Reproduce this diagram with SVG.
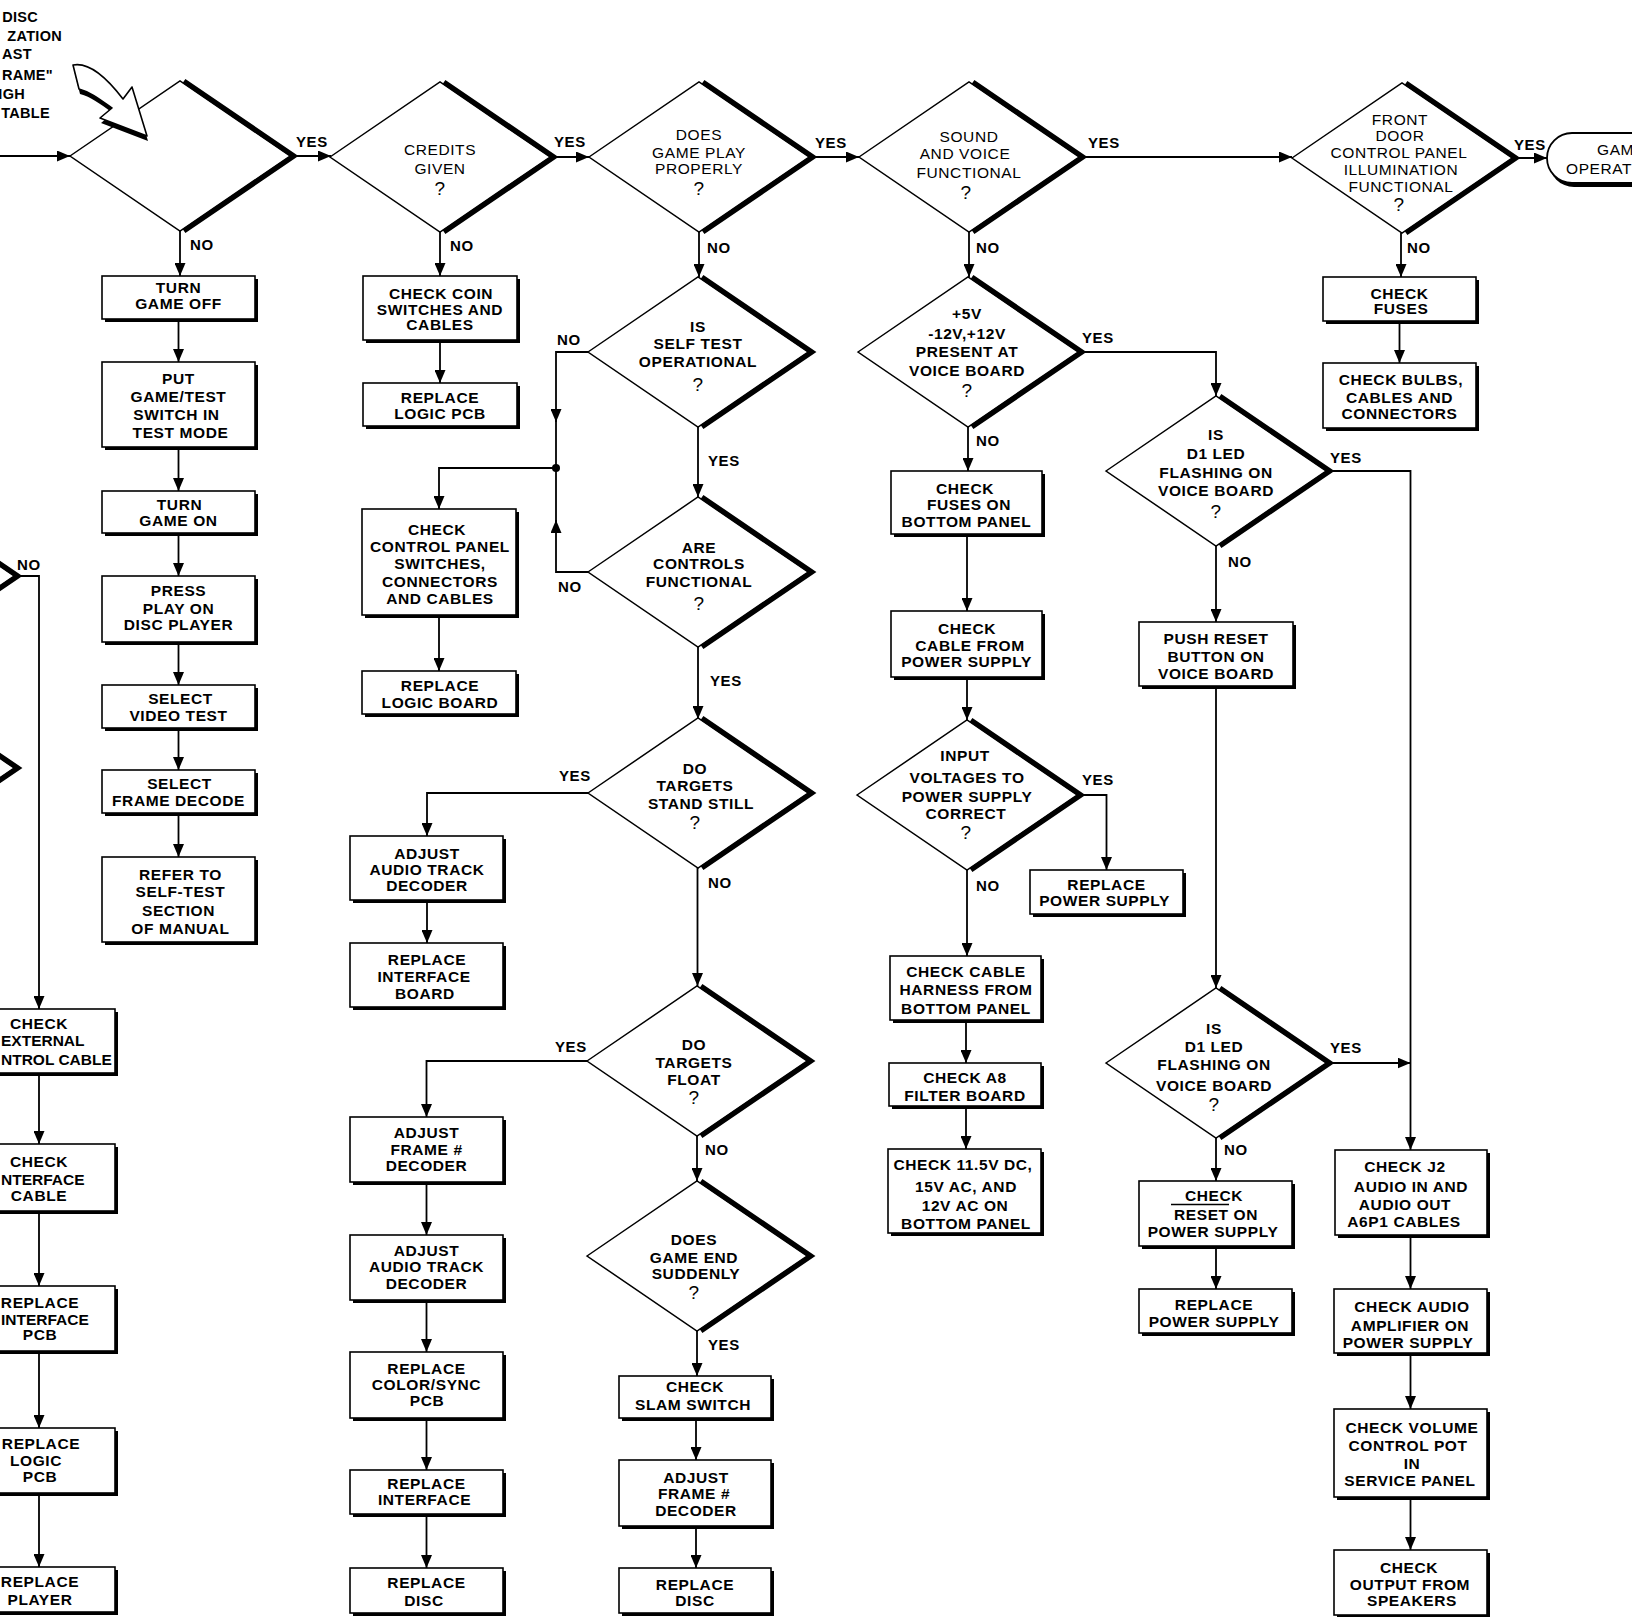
<svg xmlns="http://www.w3.org/2000/svg" xmlns:xlink="http://www.w3.org/1999/xlink" width="1632" height="1617" viewBox="0 0 1632 1617">
<style>
.ln{stroke:#000;stroke-width:1.8;fill:none}
.bx{fill:#fff;stroke:#000;stroke-width:1.6}
.sh{fill:#000}
.dm{fill:#fff;stroke:#000;stroke-width:1.5}
.dk{fill:none;stroke:#000;stroke-width:5}
text{font-family:"Liberation Sans",Arial,sans-serif;font-size:15.5px;font-weight:bold;letter-spacing:0.6px;text-anchor:middle;fill:#000}
.lb{text-anchor:start;font-size:15px}
.rg{font-weight:normal}
.st{text-anchor:start}
.cut{text-anchor:start;letter-spacing:0}
.q{font-size:19px;font-weight:normal}
.nt{text-anchor:end;font-size:14.5px;letter-spacing:0.3px}
</style>
<defs>
<marker id="ah" viewBox="0 0 13 11" refX="13" refY="5.5" markerWidth="13" markerHeight="11" markerUnits="userSpaceOnUse" orient="auto"><path d="M0,0 L13,5.5 L0,11 z" fill="#000"/></marker>
<g id="dia"><polygon class="dm" points="-110,0 0,-75 110,0 0,75"/><polyline class="dk" points="4,-75 114,0 4,75"/></g>
</defs>
<rect x="0" y="0" width="1632" height="1617" fill="#fff"/>

<!-- connectors -->
<g id="connectors">
<path class="ln" marker-end="url(#ah)" d="M0,156 H70"/>
<path class="ln" marker-end="url(#ah)" d="M290,156 H331"/>
<path class="ln" marker-end="url(#ah)" d="M550,157 H589"/>
<path class="ln" marker-end="url(#ah)" d="M809,157 H859"/>
<path class="ln" marker-end="url(#ah)" d="M1079,157 H1292"/>
<path class="ln" marker-end="url(#ah)" d="M1512,158 H1547"/>
<path class="ln" marker-end="url(#ah)" d="M180,231 V276"/>
<path class="ln" marker-end="url(#ah)" d="M178.5,319 V362"/>
<path class="ln" marker-end="url(#ah)" d="M178.5,447 V491"/>
<path class="ln" marker-end="url(#ah)" d="M178.5,533 V576"/>
<path class="ln" marker-end="url(#ah)" d="M178.5,642 V685"/>
<path class="ln" marker-end="url(#ah)" d="M178.5,728 V770"/>
<path class="ln" marker-end="url(#ah)" d="M178.5,813 V857"/>
<path class="ln" marker-end="url(#ah)" d="M440,232 V276"/>
<path class="ln" marker-end="url(#ah)" d="M440,340 V383"/>
<path class="ln" marker-end="url(#ah)" d="M699,232 V277"/>
<path class="ln" marker-end="url(#ah)" d="M698,427 V497"/>
<path class="ln" marker-end="url(#ah)" d="M588,352 H556 V422"/>
<path class="ln" d="M556,420 V468"/>
<path class="ln" marker-end="url(#ah)" d="M588,572 H556 V520"/>
<path class="ln" d="M556,522 V468"/>
<circle cx="556" cy="468" r="4" fill="#000"/>
<path class="ln" marker-end="url(#ah)" d="M556,468 H439 V509"/>
<path class="ln" marker-end="url(#ah)" d="M439,615 V671"/>
<path class="ln" marker-end="url(#ah)" d="M698,647 V719"/>
<path class="ln" marker-end="url(#ah)" d="M588,793 H427 V836"/>
<path class="ln" marker-end="url(#ah)" d="M427,900 V943"/>
<path class="ln" marker-end="url(#ah)" d="M697.5,868 V986"/>
<path class="ln" marker-end="url(#ah)" d="M587,1061 H426.5 V1117"/>
<path class="ln" marker-end="url(#ah)" d="M426.5,1182 V1235"/>
<path class="ln" marker-end="url(#ah)" d="M426.5,1300 V1352"/>
<path class="ln" marker-end="url(#ah)" d="M426.5,1418 V1470"/>
<path class="ln" marker-end="url(#ah)" d="M426.5,1514 V1568"/>
<path class="ln" marker-end="url(#ah)" d="M697,1136 V1181"/>
<path class="ln" marker-end="url(#ah)" d="M697,1331 V1376"/>
<path class="ln" marker-end="url(#ah)" d="M696,1418 V1460"/>
<path class="ln" marker-end="url(#ah)" d="M696,1526 V1568"/>
<path class="ln" marker-end="url(#ah)" d="M969,232 V277"/>
<path class="ln" marker-end="url(#ah)" d="M968,427 V471"/>
<path class="ln" marker-end="url(#ah)" d="M967,534 V611"/>
<path class="ln" marker-end="url(#ah)" d="M967,677 V720"/>
<path class="ln" marker-end="url(#ah)" d="M967,870 V956"/>
<path class="ln" marker-end="url(#ah)" d="M966,1020 V1063"/>
<path class="ln" marker-end="url(#ah)" d="M966,1106 V1149"/>
<path class="ln" marker-end="url(#ah)" d="M1077,795 H1106.5 V870"/>
<path class="ln" marker-end="url(#ah)" d="M1078,352 H1216 V396"/>
<path class="ln" marker-end="url(#ah)" d="M1216,546 V622"/>
<path class="ln" marker-end="url(#ah)" d="M1216,686 V988"/>
<path class="ln" marker-end="url(#ah)" d="M1326,471 H1410.5 V1150"/>
<path class="ln" marker-end="url(#ah)" d="M1326,1063 H1410.5"/>
<path class="ln" marker-end="url(#ah)" d="M1216,1138 V1181"/>
<path class="ln" marker-end="url(#ah)" d="M1216,1246 V1289"/>
<path class="ln" marker-end="url(#ah)" d="M1410.5,1235 V1289"/>
<path class="ln" marker-end="url(#ah)" d="M1410.5,1353 V1409"/>
<path class="ln" marker-end="url(#ah)" d="M1410.5,1497 V1550"/>
<path class="ln" marker-end="url(#ah)" d="M1401,233 V277"/>
<path class="ln" marker-end="url(#ah)" d="M1399.5,321 V363"/>
<path class="ln" marker-end="url(#ah)" d="M14,576 H39 V1009"/>
<path class="ln" marker-end="url(#ah)" d="M39,1073 V1144"/>
<path class="ln" marker-end="url(#ah)" d="M39,1211 V1286"/>
<path class="ln" marker-end="url(#ah)" d="M39,1351 V1428"/>
<path class="ln" marker-end="url(#ah)" d="M39,1493 V1567"/>
<g id="labels">
<text class="lb" x="296" y="147">YES</text>
<text class="lb" x="554" y="147">YES</text>
<text class="lb" x="815" y="148">YES</text>
<text class="lb" x="1088" y="148">YES</text>
<text class="lb" x="1514" y="150">YES</text>
<text class="lb" x="190" y="250">NO</text>
<text class="lb" x="450" y="251">NO</text>
<text class="lb" x="707" y="253">NO</text>
<text class="lb" x="976" y="253">NO</text>
<text class="lb" x="1407" y="253">NO</text>
<text class="lb" x="557" y="345">NO</text>
<text class="lb" x="708" y="466">YES</text>
<text class="lb" x="558" y="592">NO</text>
<text class="lb" x="710" y="686">YES</text>
<text class="lb" x="559" y="781">YES</text>
<text class="lb" x="708" y="888">NO</text>
<text class="lb" x="555" y="1052">YES</text>
<text class="lb" x="705" y="1155">NO</text>
<text class="lb" x="708" y="1350">YES</text>
<text class="lb" x="976" y="446">NO</text>
<text class="lb" x="1082" y="343">YES</text>
<text class="lb" x="1082" y="785">YES</text>
<text class="lb" x="976" y="891">NO</text>
<text class="lb" x="1330" y="463">YES</text>
<text class="lb" x="1228" y="567">NO</text>
<text class="lb" x="1330" y="1053">YES</text>
<text class="lb" x="1224" y="1155">NO</text>
<text class="lb" x="17" y="570">NO</text>
</g>
</g>

<!-- note -->
<g id="note">
<text class="nt" x="38" y="22">DISC</text>
<text class="nt" x="62" y="41">ZATION</text>
<text class="nt" x="32" y="59">AST</text>
<text class="nt" x="53" y="80">RAME"</text>
<text class="nt" x="25" y="99">IGH</text>
<text class="nt" x="50" y="118">TABLE</text>
</g>

<!-- diamonds -->
<g id="n-d1"><use xlink:href="#dia" x="180" y="156"/></g>
<g id="n-pointer">
<path d="M74,70 C89,67 105,79 124,104 L133,92 L148,141 L101,123 L113,113 C99,103 91,97 80,94 Z" fill="#000"/>
<path d="M73,65 C88,62 104,74 123,99 L132,87 L147,136 L100,118 L112,108 C98,98 90,92 79,89 Z" fill="#fff" stroke="#000" stroke-width="1.6" stroke-linejoin="round"/>
</g>
<g id="n-credits"><use xlink:href="#dia" x="440" y="157"/>
<text class="rg" x="440" y="154.5">CREDITS</text><text class="rg" x="440" y="173.5">GIVEN</text><text class="q" x="440" y="195">?</text></g>
<g id="n-gameplay"><use xlink:href="#dia" x="699" y="157"/>
<text class="rg" x="699" y="139.5">DOES</text><text class="rg" x="699" y="157.5">GAME PLAY</text><text class="rg" x="699" y="173.5">PROPERLY</text><text class="q" x="699" y="195">?</text></g>
<g id="n-sound"><use xlink:href="#dia" x="969" y="157"/>
<text class="rg" x="969" y="141.5">SOUND</text><text class="rg" x="965" y="158.5">AND VOICE</text><text class="rg" x="969" y="177.5">FUNCTIONAL</text><text class="q" x="966" y="199">?</text></g>
<g id="n-frontdoor"><use xlink:href="#dia" x="1402" y="158"/>
<text class="rg" x="1400" y="124.5">FRONT</text><text class="rg" x="1400" y="140.5">DOOR</text><text class="rg" x="1399" y="157.5">CONTROL PANEL</text><text class="rg" x="1401" y="174.5">ILLUMINATION</text><text class="rg" x="1401" y="191.5">FUNCTIONAL</text><text class="q" x="1399" y="211">?</text></g>
<g id="n-selftest"><use xlink:href="#dia" x="698" y="352"/>
<text x="698" y="331.5">IS</text><text x="698" y="348.5">SELF TEST</text><text x="698" y="366.5">OPERATIONAL</text><text class="q" x="698" y="391">?</text></g>
<g id="n-controls"><use xlink:href="#dia" x="698" y="572"/>
<text x="699" y="552.5">ARE</text><text x="699" y="568.5">CONTROLS</text><text x="699" y="586.5">FUNCTIONAL</text><text class="q" x="699" y="610">?</text></g>
<g id="n-standstill"><use xlink:href="#dia" x="698" y="793"/>
<text x="695" y="773.5">DO</text><text x="695" y="790.5">TARGETS</text><text x="701" y="808.5">STAND STILL</text><text class="q" x="695" y="829">?</text></g>
<g id="n-float"><use xlink:href="#dia" x="697" y="1061"/>
<text x="694" y="1049.5">DO</text><text x="694" y="1067.5">TARGETS</text><text x="694" y="1084.5">FLOAT</text><text class="q" x="694" y="1104">?</text></g>
<g id="n-gameend"><use xlink:href="#dia" x="697" y="1256"/>
<text x="694" y="1245">DOES</text><text x="694" y="1262.5">GAME END</text><text x="696" y="1278.5">SUDDENLY</text><text class="q" x="694" y="1299">?</text></g>
<g id="n-5v"><use xlink:href="#dia" x="968" y="352"/>
<text x="967" y="318.5">+5V</text><text x="967" y="338.5">-12V,+12V</text><text x="967" y="356.5">PRESENT AT</text><text x="967" y="375.5">VOICE BOARD</text><text class="q" x="967" y="396.5">?</text></g>
<g id="n-input"><use xlink:href="#dia" x="967" y="795"/>
<text x="965" y="760.5">INPUT</text><text x="967" y="782.5">VOLTAGES TO</text><text x="967" y="801.5">POWER SUPPLY</text><text x="966" y="818.5">CORRECT</text><text class="q" x="966" y="838.5">?</text></g>
<g id="n-d1led1"><use xlink:href="#dia" x="1216" y="471"/>
<text x="1216" y="439.5">IS</text><text x="1216" y="458.5">D1 LED</text><text x="1216" y="477.5">FLASHING ON</text><text x="1216" y="495.5">VOICE BOARD</text><text class="q" x="1216" y="517.5">?</text></g>
<g id="n-d1led2"><use xlink:href="#dia" x="1216" y="1063"/>
<text x="1214" y="1033.5">IS</text><text x="1214" y="1051.5">D1 LED</text><text x="1214" y="1069.5">FLASHING ON</text><text x="1214" y="1090.5">VOICE BOARD</text><text class="q" x="1214" y="1110.5">?</text></g>
<g id="n-leftd1"><use xlink:href="#dia" x="-96" y="576"/></g>
<g id="n-leftd2"><use xlink:href="#dia" x="-96" y="768"/></g>

<!-- terminal -->
<g id="n-term">
<rect x="1549" y="137" width="200" height="50" rx="25" fill="#000"/>
<rect x="1547" y="133" width="200" height="50" rx="25" fill="#fff" stroke="#000" stroke-width="1.8"/>
<text class="rg st" x="1597" y="155">GAM</text>
<text class="rg st" x="1566" y="173.5">OPERAT</text>
</g>

<!-- column A -->
<g id="n-turnoff"><rect class="sh" x="105" y="279" width="153" height="43"/><rect class="bx" x="102" y="276" width="153" height="43"/>
<text x="178.5" y="292.5">TURN</text><text x="178.5" y="308.5">GAME OFF</text></g>
<g id="n-put"><rect class="sh" x="105" y="365" width="153" height="85"/><rect class="bx" x="102" y="362" width="153" height="85"/>
<text x="178.5" y="383.5">PUT</text><text x="178.5" y="401.5">GAME/TEST</text><text x="176.5" y="419.5">SWITCH IN</text><text x="180.5" y="437.5">TEST MODE</text></g>
<g id="n-turnon"><rect class="sh" x="105" y="494" width="153" height="42"/><rect class="bx" x="102" y="491" width="153" height="42"/>
<text x="179.5" y="509.5">TURN</text><text x="178.5" y="525.5">GAME ON</text></g>
<g id="n-press"><rect class="sh" x="105" y="579" width="153" height="66"/><rect class="bx" x="102" y="576" width="153" height="66"/>
<text x="178.5" y="595.5">PRESS</text><text x="178.5" y="613.5">PLAY ON</text><text x="178.5" y="629.5">DISC PLAYER</text></g>
<g id="n-video"><rect class="sh" x="105" y="688" width="153" height="43"/><rect class="bx" x="102" y="685" width="153" height="43"/>
<text x="180.5" y="703.5">SELECT</text><text x="178.5" y="720.5">VIDEO TEST</text></g>
<g id="n-frame"><rect class="sh" x="105" y="773" width="153" height="43"/><rect class="bx" x="102" y="770" width="153" height="43"/>
<text x="179.5" y="789">SELECT</text><text x="178.5" y="805.5">FRAME DECODE</text></g>
<g id="n-refer"><rect class="sh" x="105" y="860" width="153" height="85"/><rect class="bx" x="102" y="857" width="153" height="85"/>
<text x="180.5" y="880">REFER TO</text><text x="180.5" y="897">SELF-TEST</text><text x="178.5" y="915.5">SECTION</text><text x="180.5" y="933.5">OF MANUAL</text></g>

<!-- column B -->
<g id="n-coin"><rect class="sh" x="366" y="279" width="154" height="64"/><rect class="bx" x="363" y="276" width="154" height="64"/>
<text x="441" y="298.5">CHECK COIN</text><text x="440" y="314.5">SWITCHES AND</text><text x="440" y="329.5">CABLES</text></g>
<g id="n-replogic1"><rect class="sh" x="366" y="386" width="154" height="43"/><rect class="bx" x="363" y="383" width="154" height="43"/>
<text x="440" y="402.5">REPLACE</text><text x="440" y="418.5">LOGIC PCB</text></g>
<g id="n-ctrlpanel"><rect class="sh" x="365" y="512" width="154" height="106"/><rect class="bx" x="362" y="509" width="154" height="106"/>
<text x="437" y="534.5">CHECK</text><text x="440" y="551.5">CONTROL PANEL</text><text x="440" y="568.5">SWITCHES,</text><text x="440" y="586.5">CONNECTORS</text><text x="440" y="603.5">AND CABLES</text></g>
<g id="n-replogic2"><rect class="sh" x="365" y="674" width="154" height="43"/><rect class="bx" x="362" y="671" width="154" height="43"/>
<text x="440" y="691">REPLACE</text><text x="440" y="708">LOGIC BOARD</text></g>

<!-- column B' -->
<g id="n-audio1"><rect class="sh" x="353" y="839" width="153" height="64"/><rect class="bx" x="350" y="836" width="153" height="64"/>
<text x="427" y="858.5">ADJUST</text><text x="427" y="874.5">AUDIO TRACK</text><text x="427" y="891">DECODER</text></g>
<g id="n-repint1"><rect class="sh" x="353" y="946" width="153" height="64"/><rect class="bx" x="350" y="943" width="153" height="64"/>
<text x="427" y="965">REPLACE</text><text x="424" y="982">INTERFACE</text><text x="425" y="998.5">BOARD</text></g>
<g id="n-adjframe1"><rect class="sh" x="353" y="1120" width="153" height="65"/><rect class="bx" x="350" y="1117" width="153" height="65"/>
<text x="426.5" y="1137.5">ADJUST</text><text x="426.5" y="1154.5">FRAME #</text><text x="426.5" y="1170.5">DECODER</text></g>
<g id="n-audio2"><rect class="sh" x="353" y="1238" width="153" height="65"/><rect class="bx" x="350" y="1235" width="153" height="65"/>
<text x="426.5" y="1255.5">ADJUST</text><text x="426.5" y="1272">AUDIO TRACK</text><text x="426.5" y="1288.5">DECODER</text></g>
<g id="n-color"><rect class="sh" x="353" y="1355" width="153" height="66"/><rect class="bx" x="350" y="1352" width="153" height="66"/>
<text x="426.5" y="1373.5">REPLACE</text><text x="426.5" y="1390">COLOR/SYNC</text><text x="427" y="1406">PCB</text></g>
<g id="n-repint2"><rect class="sh" x="353" y="1473" width="153" height="44"/><rect class="bx" x="350" y="1470" width="153" height="44"/>
<text x="426.5" y="1488.5">REPLACE</text><text x="424.5" y="1504.5">INTERFACE</text></g>
<g id="n-disc1"><rect class="sh" x="353" y="1571" width="153" height="45"/><rect class="bx" x="350" y="1568" width="153" height="45"/>
<text x="426.5" y="1588">REPLACE</text><text x="424" y="1605.5">DISC</text></g>

<!-- column C -->
<g id="n-slam"><rect class="sh" x="622" y="1379" width="152" height="42"/><rect class="bx" x="619" y="1376" width="152" height="42"/>
<text x="695" y="1392">CHECK</text><text x="693" y="1409.5">SLAM SWITCH</text></g>
<g id="n-adjframe2"><rect class="sh" x="622" y="1463" width="152" height="66"/><rect class="bx" x="619" y="1460" width="152" height="66"/>
<text x="696" y="1482.5">ADJUST</text><text x="694" y="1498.5">FRAME #</text><text x="696" y="1515.5">DECODER</text></g>
<g id="n-disc2"><rect class="sh" x="622" y="1571" width="152" height="45"/><rect class="bx" x="619" y="1568" width="152" height="45"/>
<text x="695" y="1589.5">REPLACE</text><text x="695" y="1605.5">DISC</text></g>

<!-- column D -->
<g id="n-fuses2"><rect class="sh" x="894" y="474" width="151" height="63"/><rect class="bx" x="891" y="471" width="151" height="63"/>
<text x="965" y="493.5">CHECK</text><text x="969" y="509.5">FUSES ON</text><text x="966.5" y="526.5">BOTTOM PANEL</text></g>
<g id="n-cable"><rect class="sh" x="894" y="614" width="151" height="66"/><rect class="bx" x="891" y="611" width="151" height="66"/>
<text x="967" y="633.5">CHECK</text><text x="970" y="650.5">CABLE FROM</text><text x="966.5" y="666.5">POWER SUPPLY</text></g>
<g id="n-harness"><rect class="sh" x="893" y="959" width="151" height="64"/><rect class="bx" x="890" y="956" width="151" height="64"/>
<text x="966" y="976.5">CHECK CABLE</text><text x="966" y="995">HARNESS FROM</text><text x="966" y="1013.5">BOTTOM PANEL</text></g>
<g id="n-a8"><rect class="sh" x="892" y="1066" width="152" height="43"/><rect class="bx" x="889" y="1063" width="152" height="43"/>
<text x="965" y="1082.5">CHECK A8</text><text x="965" y="1100.5">FILTER BOARD</text></g>
<g id="n-11v"><rect class="sh" x="891" y="1152" width="153" height="84"/><rect class="bx" x="888" y="1149" width="153" height="84"/>
<text x="963" y="1169.5">CHECK 11.5V DC,</text><text x="966" y="1191.5">15V AC, AND</text><text x="965" y="1211">12V AC ON</text><text x="966" y="1228.5">BOTTOM PANEL</text></g>
<g id="n-reppsu1"><rect class="sh" x="1033" y="873" width="153" height="44"/><rect class="bx" x="1030" y="870" width="153" height="44"/>
<text x="1106.5" y="889.5">REPLACE</text><text x="1104.5" y="905.5">POWER SUPPLY</text></g>

<!-- column E -->
<g id="n-pushreset"><rect class="sh" x="1142" y="625" width="154" height="64"/><rect class="bx" x="1139" y="622" width="154" height="64"/>
<text x="1216" y="643.5">PUSH RESET</text><text x="1216" y="661.5">BUTTON ON</text><text x="1216" y="678.5">VOICE BOARD</text></g>
<g id="n-checkreset"><rect class="sh" x="1142" y="1184" width="153" height="65"/><rect class="bx" x="1139" y="1181" width="153" height="65"/>
<text x="1214" y="1200.5">CHECK</text><text x="1216" y="1220">RESET ON</text><line x1="1171" y1="1204.5" x2="1229" y2="1204.5" stroke="#000" stroke-width="1.6"/><text x="1213" y="1237">POWER SUPPLY</text></g>
<g id="n-reppsu2"><rect class="sh" x="1142" y="1292" width="153" height="44"/><rect class="bx" x="1139" y="1289" width="153" height="44"/>
<text x="1214" y="1309.5">REPLACE</text><text x="1214" y="1326.5">POWER SUPPLY</text></g>

<!-- column F -->
<g id="n-j2"><rect class="sh" x="1338" y="1153" width="152" height="85"/><rect class="bx" x="1335" y="1150" width="152" height="85"/>
<text x="1405" y="1172">CHECK J2</text><text x="1411" y="1191.5">AUDIO IN AND</text><text x="1405" y="1209.5">AUDIO OUT</text><text x="1404" y="1226.5">A6P1 CABLES</text></g>
<g id="n-amp"><rect class="sh" x="1337" y="1292" width="153" height="64"/><rect class="bx" x="1334" y="1289" width="153" height="64"/>
<text x="1412" y="1311.5">CHECK AUDIO</text><text x="1410" y="1330.5">AMPLIFIER ON</text><text x="1408" y="1347.5">POWER SUPPLY</text></g>
<g id="n-volume"><rect class="sh" x="1337" y="1412" width="153" height="88"/><rect class="bx" x="1334" y="1409" width="153" height="88"/>
<text x="1412" y="1432.5">CHECK VOLUME</text><text x="1408" y="1450.5">CONTROL POT</text><text x="1412" y="1468.5">IN</text><text x="1410" y="1485.5">SERVICE PANEL</text></g>
<g id="n-output"><rect class="sh" x="1337" y="1553" width="153" height="65"/><rect class="bx" x="1334" y="1550" width="153" height="65"/>
<text x="1409" y="1572.5">CHECK</text><text x="1410" y="1589.5">OUTPUT FROM</text><text x="1412" y="1605.5">SPEAKERS</text></g>

<!-- column front door -->
<g id="n-fuses1"><rect class="sh" x="1326" y="280" width="153" height="44"/><rect class="bx" x="1323" y="277" width="153" height="44"/>
<text x="1399.5" y="298.5">CHECK</text><text x="1401" y="313.5">FUSES</text></g>
<g id="n-bulbs"><rect class="sh" x="1326" y="366" width="153" height="65"/><rect class="bx" x="1323" y="363" width="153" height="65"/>
<text x="1401" y="384.5">CHECK BULBS,</text><text x="1399.5" y="402.5">CABLES AND</text><text x="1399.5" y="418.5">CONNECTORS</text></g>

<!-- left column (cropped) -->
<g id="n-ext"><rect class="sh" x="-34" y="1012" width="152" height="64"/><rect class="bx" x="-37" y="1009" width="152" height="64"/>
<text x="39" y="1029">CHECK</text><text class="cut" x="1" y="1046">EXTERNAL</text><text class="cut" x="1" y="1064.5">NTROL CABLE</text></g>
<g id="n-intcable"><rect class="sh" x="-34" y="1147" width="152" height="67"/><rect class="bx" x="-37" y="1144" width="152" height="67"/>
<text x="39" y="1166.5">CHECK</text><text class="cut" x="1" y="1184.5">NTERFACE</text><text x="39" y="1201">CABLE</text></g>
<g id="n-repintpcb"><rect class="sh" x="-34" y="1289" width="152" height="65"/><rect class="bx" x="-37" y="1286" width="152" height="65"/>
<text x="40" y="1307.5">REPLACE</text><text class="cut" x="1" y="1324.5">INTERFACE</text><text x="40" y="1340">PCB</text></g>
<g id="n-replogicpcb"><rect class="sh" x="-34" y="1431" width="152" height="65"/><rect class="bx" x="-37" y="1428" width="152" height="65"/>
<text x="41" y="1449">REPLACE</text><text x="36" y="1465.5">LOGIC</text><text x="40" y="1481.5">PCB</text></g>
<g id="n-repplayer"><rect class="sh" x="-34" y="1570" width="152" height="45"/><rect class="bx" x="-37" y="1567" width="152" height="45"/>
<text x="40" y="1587">REPLACE</text><text x="40" y="1604.5">PLAYER</text></g>
</svg>
